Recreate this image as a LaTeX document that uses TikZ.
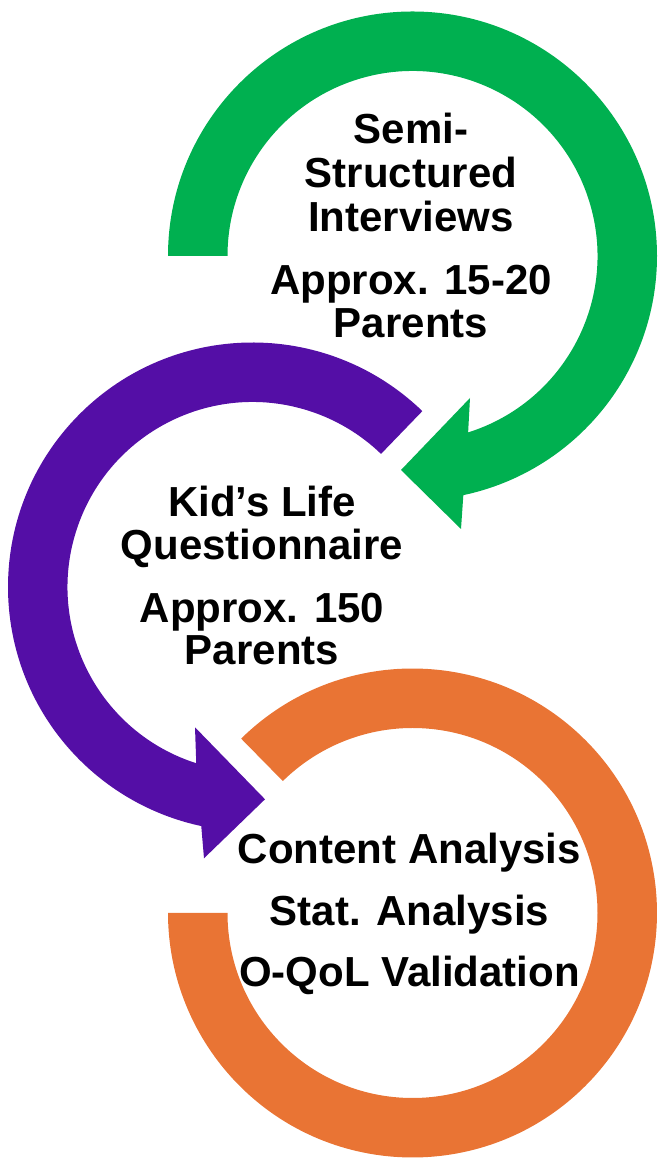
\documentclass[tikz,border=0pt]{standalone}
\usepackage{fontspec}
\setmainfont{Liberation Sans}
\usetikzlibrary{calc}
\definecolor{ringgreen}{HTML}{00B050}
\definecolor{ringpurple}{HTML}{540EA6}
\definecolor{ringorange}{HTML}{E97434}
\tikzset{
  lbl/.style={font=\fontsize{42bp}{48bp}\selectfont\bfseries, anchor=base, inner sep=0pt, text=black},
}
\begin{document}
\begin{tikzpicture}[x=1bp,y=1bp]
\useasboundingbox (0,0) rectangle (666,1161);
% centres
\coordinate (gc) at (412.5,905);
\coordinate (pc) at (252.5,574);
\coordinate (oc) at (412.5,248);
% green arrow head points
\coordinate (gB1) at (470,763);
\coordinate (gT) at (401,691);
\coordinate (gB2) at (461,632);
% purple arrow head points
\coordinate (pB1) at (195,433.7);
\coordinate (pT) at (265,361.7);
\coordinate (pB2) at (204,302.7);
% green circular arrow
\fill[ringgreen] ($(gc)+(180:244.5)$) arc[start angle=180, end angle=-78, radius=244.5]
  -- (gB2) -- (gT) -- (gB1) -- ($(gc)+(-72.5:185)$)
  arc[start angle=-72.5, end angle=180, radius=185] -- cycle;
% purple circular arrow
\fill[ringpurple] ($(pc)+(46:244.5)$) arc[start angle=46, end angle=257.9, radius=244.5]
  -- (pB2) -- (pT) -- (pB1) -- ($(pc)+(252.3:185)$)
  arc[start angle=252.3, end angle=46, radius=185] -- cycle;
% orange ring
\fill[ringorange] ($(oc)+(134.5:244.5)$) arc[start angle=134.5, end angle=-180, radius=244.5]
  -- ($(oc)+(-185,0)$) arc[start angle=-180, end angle=134.5, radius=185] -- cycle;
% green text
\node[lbl] (g1) at (411,1017) {Semi-};
\node[lbl] (g2) at (411,973) {Structured};
\node[lbl] (g3) at (411,929) {Interviews};
\node[lbl] (g4) at (411,866) {Approx. 15-20};
\node[lbl] (g5) at (411,823) {Parents};
% purple text
\node[lbl] (p1) at (262,644) {Kid’s Life};
\node[lbl] (p2) at (262,601) {Questionnaire};
\node[lbl] (p3) at (262,538) {Approx. 150};
\node[lbl] (p4) at (262,496) {Parents};
% orange text
\node[lbl] (o1) at (409.5,297) {Content Analysis};
\node[lbl] (o2) at (409.5,235) {Stat. Analysis};
\node[lbl] (o3) at (409.5,174) {O-QoL Validation};
\end{tikzpicture}
\end{document}
